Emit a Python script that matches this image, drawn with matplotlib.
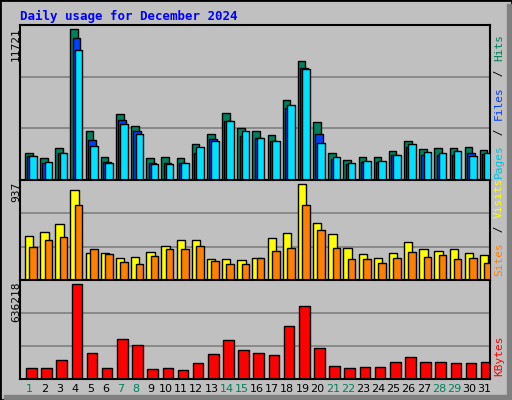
import matplotlib
matplotlib.use('Agg')
import matplotlib.pyplot as plt
import numpy as np
from matplotlib.patches import Rectangle

days = list(range(1, 32))
weekend = [1, 7, 8, 14, 15, 21, 22, 28, 29]

hits = [2095, 1697, 2493, 11721, 3845, 1777, 5118, 4164, 1697, 1777, 1697, 2811, 3607, 5198, 4084, 3845,
        3527, 6232, 9255, 4482, 2095, 1538, 1777, 1777, 2254, 3050, 2413, 2493, 2493, 2572, 2334]
files = [1830, 1299, 2095, 11085, 3129, 1379, 4641, 3845, 1299, 1299, 1299, 2095, 3209, 4561, 3448, 3288,
         3050, 5596, 8699, 3607, 1618, 1220, 1379, 1379, 1936, 2572, 1936, 1936, 1936, 2095, 2016]
pages = [1856, 1379, 2095, 10130, 2652, 1299, 4323, 3607, 1220, 1220, 1299, 2572, 3050, 4561, 3845, 3288,
         3050, 5834, 8619, 2891, 1777, 1299, 1459, 1459, 1936, 2811, 2175, 2095, 2254, 1856, 2095]
sites = [430, 470, 551, 886, 267, 267, 217, 227, 277, 338, 389, 389, 206, 206, 196, 217,
         409, 460, 937, 562, 450, 318, 257, 217, 267, 369, 308, 288, 308, 267, 247]
visits = [328, 389, 419, 734, 308, 257, 176, 156, 237, 308, 308, 338, 186, 156, 156, 217,
          288, 318, 734, 491, 318, 206, 206, 166, 217, 277, 227, 247, 206, 217, 166]
kbytes = [72000, 72000, 127700, 636218, 176500, 72000, 267000, 232000, 65000, 72000, 58000, 106800,
          169500, 260000, 197000, 176500, 162500, 357600, 490000, 211000, 86000, 72000, 79000, 79000,
          113800, 148600, 113800, 113800, 106800, 106800, 113800]

W, H = 512, 400
fig = plt.figure(figsize=(W / 100, H / 100), dpi=100)
fig.patch.set_facecolor('#C0C0C0')
# outer frame with shadow
fig.patches.append(Rectangle((0, 0), 1, 1, transform=fig.transFigure, fill=False, ec='black', lw=2))
fig.patches.append(Rectangle((1 - 5 / W, 0), 4 / W, 1 - 4 / H, transform=fig.transFigure, color='#808080'))
fig.patches.append(Rectangle((4 / W, 1 / H), 1 - 5 / W, 4 / H, transform=fig.transFigure, color='#808080'))

mono = 'DejaVu Sans Mono'
x = np.array(days)


def panel(top, bottom):
    ax = fig.add_axes([20 / W, 1 - bottom / H, 470 / W, (bottom - top) / H])
    ax.set_facecolor('#C0C0C0')
    ax.set_xlim(0.5, 31.5)
    ax.set_xticks([])
    ax.set_yticks([])
    for s in ax.spines.values():
        s.set_linewidth(1.5)
        s.set_color('black')
    return ax


def grid(ax, top):
    ax.set_ylim(0, top)
    for f in (1 / 3, 2 / 3):
        ax.axhline(top * f, color='#808080', lw=1.2, zorder=0)


ax1 = panel(25, 180)
grid(ax1, 12063)
ax1.bar(x - 0.17, hits, 0.5, align='edge', color='#00805C', ec='black', lw=1, zorder=2)
ax1.bar(x - 0.02, files, 0.5, align='edge', color='#0040FF', ec='black', lw=1, zorder=3)
ax1.bar(x + 0.12, pages, 0.5, align='edge', color='#00E0FF', ec='black', lw=1, zorder=4)

ax2 = panel(180, 280)
grid(ax2, 981)
ax2.bar(x - 0.17, sites, 0.55, align='edge', color='#FFFF00', ec='black', lw=1, zorder=2)
ax2.bar(x + 0.12, visits, 0.5, align='edge', color='#FF8000', ec='black', lw=1, zorder=3)

ax3 = panel(280, 379)
grid(ax3, 666000)
ax3.bar(x - 0.1, kbytes, 0.7, align='edge', color='#FF0000', ec='black', lw=1, zorder=2)

# titles and labels
fig.text(20 / W, 1 - 16 / H, 'Daily usage for December 2024', color='#0000FF', fontsize=9,
         fontweight='bold', family=mono, va='center', ha='left')
for ytop, lab in [(27, '11721'), (182, '937'), (282, '636218')]:
    fig.text(16 / W, 1 - ytop / H, lab, rotation=90, fontsize=8, family=mono, ha='center', va='top')

def right_label(ybot, parts):
    y = 1 - ybot / H
    for txt, col in parts:
        t = fig.text(499 / W, y, txt, rotation=90, fontsize=8, family=mono, color=col,
                     ha='center', va='bottom')
        y += len(txt) * 7.3 / H

right_label(178, [('Pages', '#00C0E0'), (' / ', 'black'), ('Files', '#0040FF'),
                  (' / ', 'black'), ('Hits', '#00805C')])
right_label(276, [('Sites', '#FF8000'), (' / ', 'black'), ('Visits', '#FFFF00')])
right_label(376, [('KBytes', '#FF0000')])

for d in days:
    xf = (20 + (d - 0.5) * 470 / 31 + 2) / W
    fig.text(xf, 1 - 389 / H, str(d), fontsize=8, family='DejaVu Sans', ha='center', va='center',
             color='#00805C' if d in weekend else 'black')

fig.savefig('out.png', dpi=100, facecolor=fig.get_facecolor())
